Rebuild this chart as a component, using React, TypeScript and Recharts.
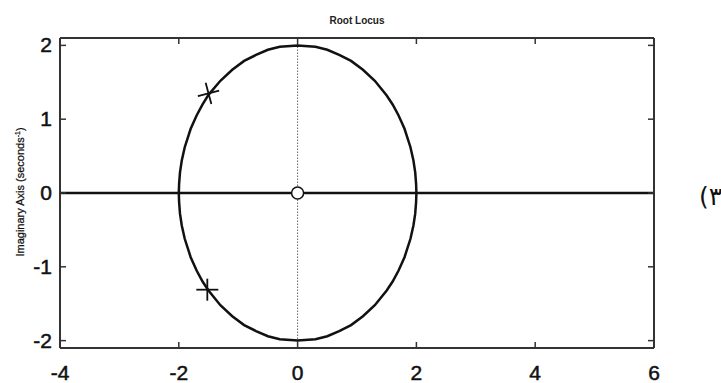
import React from "react";
import {
  ScatterChart,
  Scatter,
  XAxis,
  YAxis,
  ReferenceLine,
  Label,
} from "recharts";

// root locus branches (radius ~2 circle)
const locusUpper = [
  { x: -2, y: 0 },
  { x: -1.995, y: 0.12 },
  { x: -1.98, y: 0.28 },
  { x: -1.95, y: 0.44 },
  { x: -1.9, y: 0.62 },
  { x: -1.8, y: 0.87 },
  { x: -1.7, y: 1.05 },
  { x: -1.6, y: 1.2 },
  { x: -1.5, y: 1.33 },
  { x: -1.3, y: 1.52 },
  { x: -1.1, y: 1.67 },
  { x: -0.9, y: 1.79 },
  { x: -0.7, y: 1.87 },
  { x: -0.5, y: 1.94 },
  { x: -0.3, y: 1.98 },
  { x: 0, y: 2 },
  { x: 0.3, y: 1.98 },
  { x: 0.5, y: 1.94 },
  { x: 0.7, y: 1.87 },
  { x: 0.9, y: 1.79 },
  { x: 1.1, y: 1.67 },
  { x: 1.3, y: 1.52 },
  { x: 1.5, y: 1.32 },
  { x: 1.6, y: 1.2 },
  { x: 1.7, y: 1.05 },
  { x: 1.8, y: 0.87 },
  { x: 1.9, y: 0.62 },
  { x: 1.95, y: 0.44 },
  { x: 1.98, y: 0.28 },
  { x: 1.995, y: 0.12 },
  { x: 2, y: 0 },
];

const locusLower = [
  { x: -2, y: 0 },
  { x: -1.995, y: -0.12 },
  { x: -1.98, y: -0.28 },
  { x: -1.95, y: -0.44 },
  { x: -1.9, y: -0.62 },
  { x: -1.8, y: -0.87 },
  { x: -1.7, y: -1.05 },
  { x: -1.6, y: -1.2 },
  { x: -1.5, y: -1.32 },
  { x: -1.3, y: -1.52 },
  { x: -1.1, y: -1.67 },
  { x: -0.9, y: -1.79 },
  { x: -0.7, y: -1.87 },
  { x: -0.5, y: -1.94 },
  { x: -0.3, y: -1.98 },
  { x: 0, y: -2 },
  { x: 0.3, y: -1.98 },
  { x: 0.5, y: -1.94 },
  { x: 0.7, y: -1.87 },
  { x: 0.9, y: -1.79 },
  { x: 1.1, y: -1.67 },
  { x: 1.3, y: -1.52 },
  { x: 1.5, y: -1.32 },
  { x: 1.6, y: -1.2 },
  { x: 1.7, y: -1.05 },
  { x: 1.8, y: -0.87 },
  { x: 1.9, y: -0.62 },
  { x: 1.95, y: -0.44 },
  { x: 1.98, y: -0.28 },
  { x: 1.995, y: -0.12 },
  { x: 2, y: 0 },
];

const poles = [
  { x: -1.5, y: 1.35, tilt: -15 },
  { x: -1.52, y: -1.31, tilt: 0 },
];
const zeros = [{ x: 0, y: 0 }];

const xTicks = [-4, -2, 0, 2, 4, 6];
const yTicks = [-2, -1, 0, 1, 2];

const AXIS = "#333";
const FONT = "'Liberation Sans', Arial, sans-serif";

const BottomTick = ({ x, y, payload }: any) => (
  <g>
    <line x1={x} x2={x} y1={y - 10} y2={y - 16} stroke={AXIS} strokeWidth={1.5} />
    <text
      x={x}
      y={y}
      dy={22}
      textAnchor="middle"
      fontSize={21}
      fill="#111"
      stroke="#111"
      strokeWidth={0.5}
      fontFamily={FONT}
    >
      {payload.value}
    </text>
  </g>
);

const TopTick = ({ x, y }: any) => (
  <line x1={x} x2={x} y1={y} y2={y + 6} stroke={AXIS} strokeWidth={1.5} />
);

const LeftTick = ({ x, y, payload }: any) => (
  <g>
    <line x1={x + 8} x2={x + 14} y1={y} y2={y} stroke={AXIS} strokeWidth={1.5} />
    <text
      x={x}
      y={y}
      dy={7}
      textAnchor="end"
      fontSize={21}
      fill="#111"
      stroke="#111"
      strokeWidth={0.5}
      fontFamily={FONT}
    >
      {payload.value}
    </text>
  </g>
);

const RightTick = ({ x, y }: any) => (
  <line x1={x} x2={x - 6} y1={y} y2={y} stroke={AXIS} strokeWidth={1.5} />
);

const PoleShape = ({ cx, cy, payload }: any) => (
  <g transform={`translate(${cx},${cy}) rotate(${payload.tilt})`}>
    <line x1={-11} x2={11} y1={0} y2={0} stroke="#111" strokeWidth={1.8} />
    <line x1={0} x2={0} y1={-11} y2={11} stroke="#111" strokeWidth={1.8} />
  </g>
);

const ZeroShape = ({ cx, cy }: any) => (
  <circle cx={cx} cy={cy} r={6} fill="#fff" stroke="#111" strokeWidth={1.5} />
);

const YLabel = () => (
  <text
    transform="translate(24,192) rotate(-90)"
    textAnchor="middle"
    fontSize={11}
    fill="#111"
    stroke="#111"
    strokeWidth={0.25}
    fontFamily={FONT}
  >
    Imaginary Axis (seconds
    <tspan dy={-4} fontSize={7}>-1</tspan>
    <tspan dy={4}>)</tspan>
  </text>
);

const Title = ({ viewBox }: any) => (
  <text
    x={viewBox.x + viewBox.width / 2}
    y={24}
    textAnchor="middle"
    fontSize={10}
    fontWeight="bold"
    fill="#222"
    fontFamily={FONT}
  >
    Root Locus
  </text>
);

export default function App() {
  return (
    <div style={{ position: "absolute", left: 0, top: 0, width: 721, height: 383, background: "#fff", overflow: "hidden" }}>
      <ScatterChart
        width={721}
        height={383}
        margin={{ top: 37, right: 66, bottom: 5, left: 20 }}
      >
        <XAxis
          type="number"
          dataKey="x"
          domain={[-4, 6]}
          ticks={xTicks}
          allowDataOverflow
          height={30}
          tickSize={0}
          tickMargin={10}
          tick={<BottomTick />}
          tickLine={false}
          axisLine={{ stroke: AXIS, strokeWidth: 2 }}
        />
        <XAxis
          xAxisId="top"
          orientation="top"
          type="number"
          dataKey="x"
          domain={[-4, 6]}
          ticks={xTicks}
          allowDataOverflow
          height={1}
          tickSize={0}
          tickMargin={0}
          tick={<TopTick />}
          tickLine={false}
          axisLine={{ stroke: AXIS, strokeWidth: 2 }}
        >
          <Label content={<Title />} />
        </XAxis>
        <YAxis
          type="number"
          dataKey="y"
          domain={[-2.1, 2.1]}
          ticks={yTicks}
          allowDataOverflow
          width={40}
          tickSize={0}
          tickMargin={8}
          tick={<LeftTick />}
          tickLine={false}
          axisLine={{ stroke: AXIS, strokeWidth: 2 }}
        >
          <Label content={<YLabel />} />
        </YAxis>
        <YAxis
          yAxisId="right"
          orientation="right"
          type="number"
          dataKey="y"
          domain={[-2.1, 2.1]}
          ticks={yTicks}
          allowDataOverflow
          width={1}
          tickSize={0}
          tickMargin={0}
          tick={<RightTick />}
          tickLine={false}
          axisLine={{ stroke: AXIS, strokeWidth: 2 }}
        />
        <ReferenceLine x={0} stroke="#666" strokeWidth={1} strokeDasharray="1.5 1.5" />
        <ReferenceLine y={0} stroke="#111" strokeWidth={2.5} />
        <Scatter
          data={locusUpper}
          line={{ stroke: "#111", strokeWidth: 2.5 }}
          shape={() => <g />}
          isAnimationActive={false}
        />
        <Scatter
          data={locusLower}
          line={{ stroke: "#111", strokeWidth: 2.5 }}
          shape={() => <g />}
          isAnimationActive={false}
        />
        <Scatter data={poles} shape={<PoleShape />} isAnimationActive={false} />
        <Scatter data={zeros} shape={<ZeroShape />} isAnimationActive={false} />
        {/* dummy series so the top and right axes get drawn */}
        <Scatter
          data={zeros}
          xAxisId="top"
          yAxisId="right"
          shape={() => <g />}
          isAnimationActive={false}
        />
      </ScatterChart>
      <span
        style={{
          position: "absolute",
          left: 699,
          top: 182,
          fontSize: 25,
          lineHeight: "30px",
          fontFamily: "'DejaVu Sans', serif",
          color: "#111",
          whiteSpace: "nowrap",
        }}
      >
        (٣
      </span>
    </div>
  );
}
